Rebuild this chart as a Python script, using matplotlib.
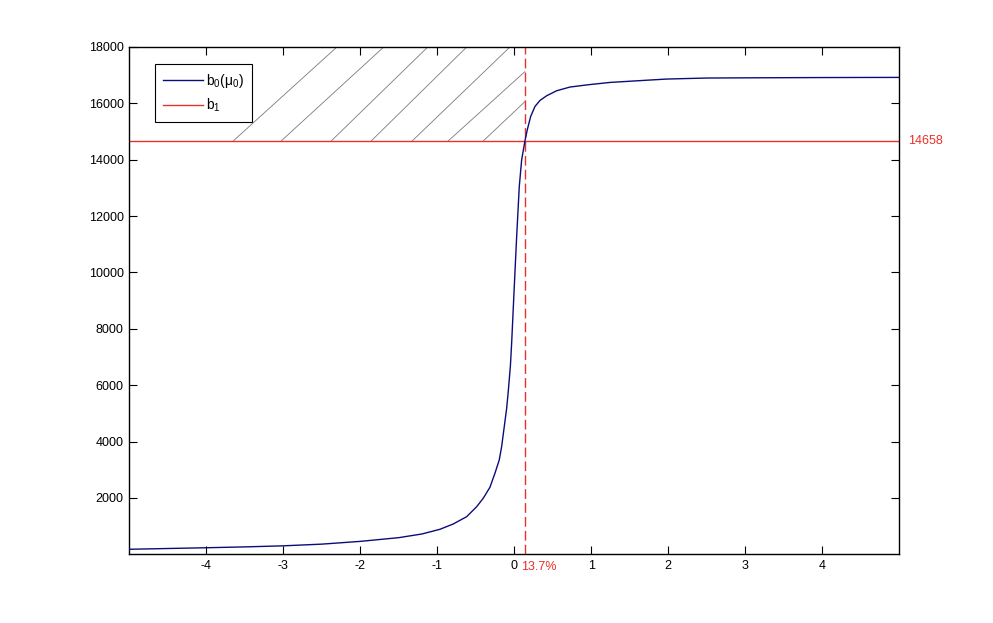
import matplotlib
matplotlib.use("Agg")
import matplotlib.pyplot as plt

plt.rcParams['font.family'] = ['Liberation Sans', 'DejaVu Sans']
plt.rcParams['mathtext.fontset'] = 'custom'
plt.rcParams['mathtext.rm'] = 'Liberation Sans'
plt.rcParams['mathtext.it'] = 'Liberation Sans'

# ---- data ----
mu0 = [-5.0, -4.5, -4.0, -3.5, -3.0, -2.5, -2.0, -1.5, -1.2, -0.965, -0.792,
       -0.618, -0.488, -0.403, -0.316, -0.251, -0.195, -0.164, -0.13, -0.099,
       -0.078, -0.05, -0.034, -0.004, 0.031, 0.065, 0.096, 0.139, 0.169, 0.213,
       0.269, 0.334, 0.421, 0.551, 0.723, 0.961, 1.243, 1.675, 1.98, 2.5, 3.0,
       3.5, 4.0, 4.5, 5.0]
b0 = [178, 205, 232, 262, 300, 360, 458, 590, 720, 887, 1076,
      1335, 1690, 1988, 2378, 2875, 3348, 3820, 4530, 5180,
      5780, 6700, 7500, 9266, 11275, 13050, 14000, 14672, 15063, 15535,
      15890, 16103, 16270, 16447, 16578, 16660, 16742, 16813, 16862, 16898, 16905,
      16910, 16915, 16918, 16920]
b1 = 14658
mu_cross = 0.137
cross_label = "13.7%"
b1_label = "14658"

# hatch segments: start on the b1 line, end on top edge or on the dashed line
hatch_x0 = [-3.653, -3.03, -2.38, -1.861, -1.329, -0.861, -0.406]
hatch_x1 = [-2.303, -1.695, -1.123, -0.617, -0.056, 0.137, 0.137]
hatch_y1 = [18000, 18000, 18000, 18000, 18000, 17122, 16057]

xticks = [-4, -3, -2, -1, 0, 1, 2, 3, 4]
yticks = [2000, 4000, 6000, 8000, 10000, 12000, 14000, 16000, 18000]

navy = '#0c0c78'
red = '#e8302c'

fig = plt.figure(figsize=(9.93, 6.23), dpi=100)
ax = fig.add_axes([0.1302, 0.1103, 0.7754, 0.8143])

for x0, x1, y1 in zip(hatch_x0, hatch_x1, hatch_y1):
    ax.plot([x0, x1], [b1, y1], color='#7a7a7a', lw=0.6, zorder=1)

ln0, = ax.plot(mu0, b0, color=navy, lw=1.0, label=r'$\mathregular{b_0(\mu_0)}$', zorder=3)
ln1 = ax.axhline(b1, color=red, lw=1.0, label=r'$\mathregular{b_1}$', zorder=2)
ax.axvline(mu_cross, color=red, lw=1.0, dashes=(7, 3), zorder=2)

ax.set_xlim(-5, 5)
ax.set_ylim(0, 18000)
ax.set_xticks(xticks)
ax.set_xticklabels([str(t) for t in xticks])
ax.set_yticks(yticks)
ax.set_yticklabels([str(t) for t in yticks])
ax.tick_params(direction='in', length=6, width=0.8, top=True, right=True,
               labelsize=9, pad=4, colors='black')
for s in ax.spines.values():
    s.set_linewidth(1.0)

ax.annotate(cross_label, xy=(mu_cross, 0), xycoords=('data', 'axes fraction'),
            xytext=(-3, -4.5), textcoords='offset points', ha='left', va='top',
            color=red, fontsize=9)
ax.annotate(b1_label, xy=(1, b1), xycoords=('axes fraction', 'data'),
            xytext=(6, 0), textcoords='offset points', ha='left', va='center',
            color=red, fontsize=9)

leg = ax.legend(handles=[ln0, ln1], loc='upper left', bbox_to_anchor=(0.0334, 0.9665),
                borderaxespad=0, fontsize=10, fancybox=False, framealpha=1,
                edgecolor='black', handlelength=2.9, handletextpad=0.25,
                labelspacing=0.5, borderpad=0.55)
leg.get_frame().set_linewidth(0.8)

fig.savefig('out.png', dpi=100)
